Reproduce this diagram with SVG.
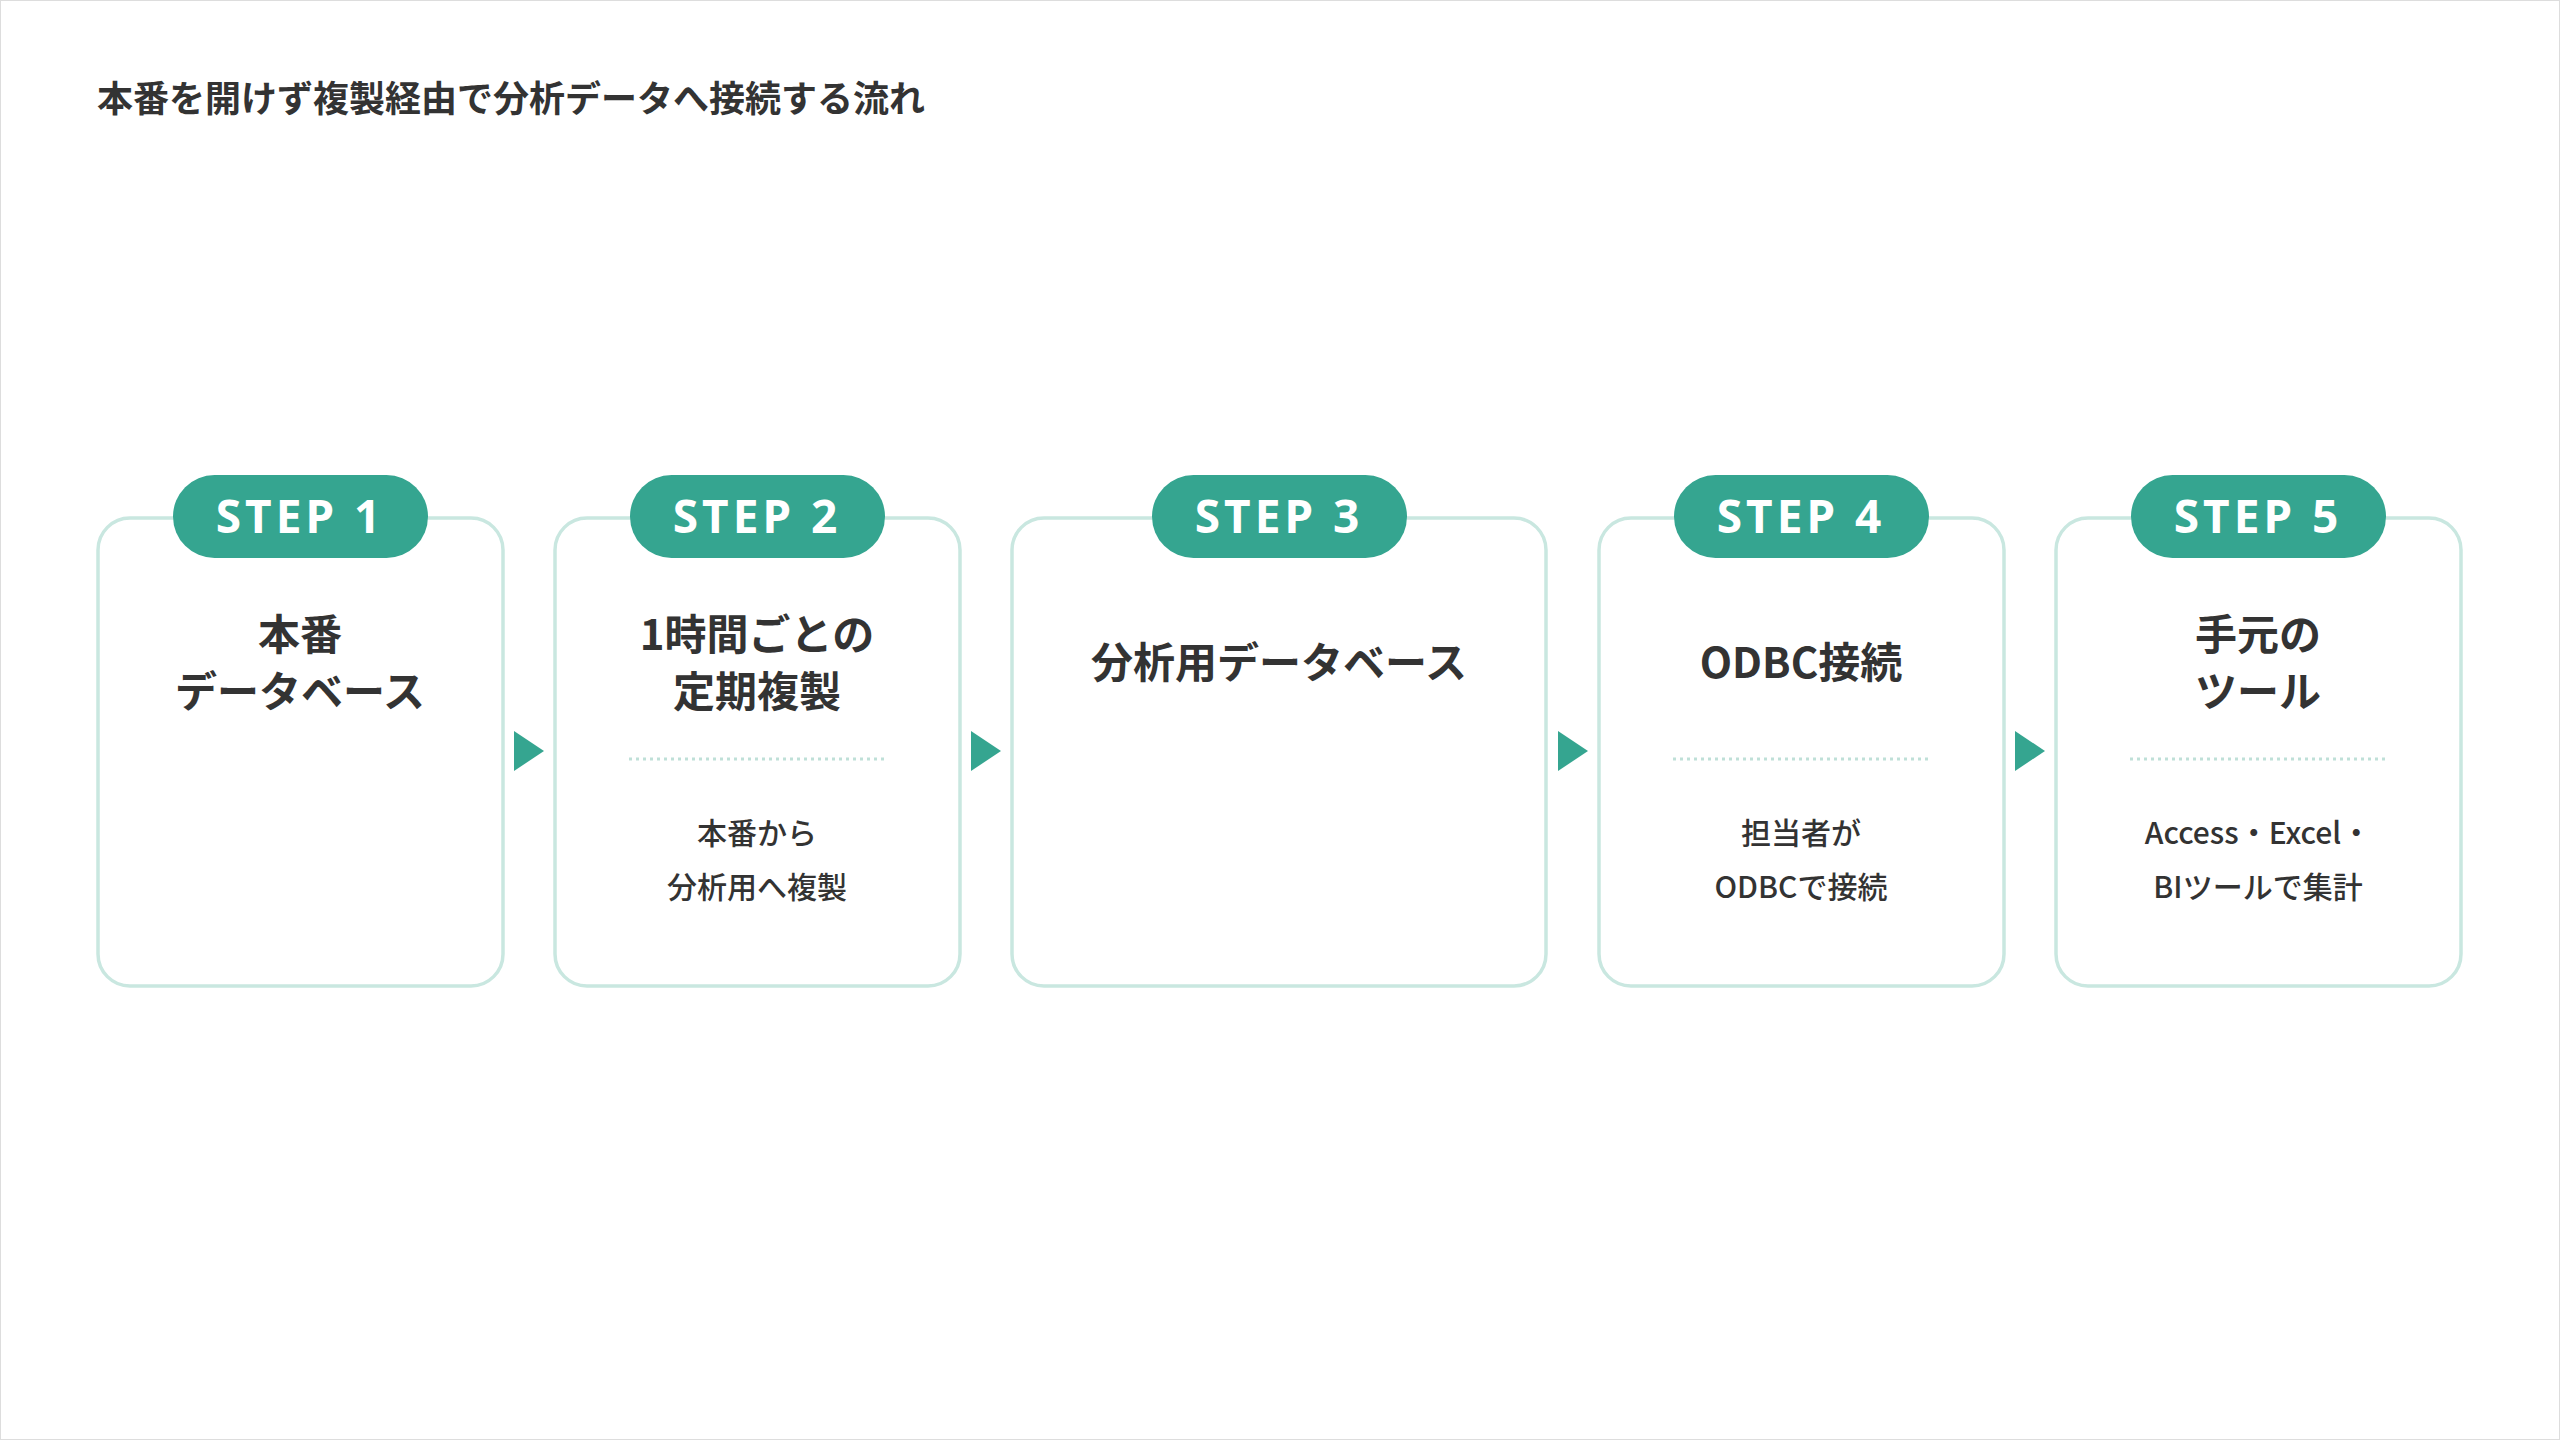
<svg xmlns="http://www.w3.org/2000/svg" width="2560" height="1440" viewBox="0 0 2560 1440">
<style>
text{font-family:"Noto Sans CJK JP","Noto Sans",sans-serif;fill:#333;}
.box{fill:#fff;stroke:#c9e7e0;stroke-width:3.5;}
.pill{fill:#35a590;}
.pt{fill:#fff;font-size:46px;font-weight:700;letter-spacing:4px;text-anchor:middle;font-family:"Noto Sans","Noto Sans CJK JP",sans-serif;}
.tt{font-size:42px;font-weight:700;text-anchor:middle;}
.st{font-size:30px;font-weight:500;text-anchor:middle;}
.dot{stroke:#bfe0d8;stroke-width:3;stroke-dasharray:3 4;}
.arr{fill:#35a590;}
</style>
<rect x="0.5" y="0.5" width="2559" height="1439" fill="#fff" stroke="#ddd"/>
<text x="97" y="112" font-size="36" font-weight="700">本番を開けず複製経由で分析データへ接続する流れ</text>
<g id="connectors">
<polygon class="arr" points="514,731 544,751 514,771"/>
<polygon class="arr" points="971,731 1001,751 971,771"/>
<polygon class="arr" points="1558,731 1588,751 1558,771"/>
<polygon class="arr" points="2015,731 2045,751 2015,771"/>
</g>
<g id="step1">
<rect class="box" x="98" y="518" width="405" height="468" rx="32"/>
<rect class="pill" x="173" y="475" width="255" height="83" rx="41.5"/>
<text class="pt" x="300" y="533">STEP 1</text>
<text class="tt" x="300" y="650">本番</text>
<text class="tt" x="300" y="707">データベース</text>
</g>
<g id="step2">
<rect class="box" x="555" y="518" width="405" height="468" rx="32"/>
<rect class="pill" x="630" y="475" width="255" height="83" rx="41.5"/>
<text class="pt" x="757" y="533">STEP 2</text>
<text class="tt" x="757" y="650">1時間ごとの</text>
<text class="tt" x="757" y="707">定期複製</text>
<line class="dot" x1="629" y1="759" x2="887" y2="759"/>
<text class="st" x="757" y="844">本番から</text>
<text class="st" x="757" y="898">分析用へ複製</text>
</g>
<g id="step3">
<rect class="box" x="1012" y="518" width="534" height="468" rx="32"/>
<rect class="pill" x="1152" y="475" width="255" height="83" rx="41.5"/>
<text class="pt" x="1279" y="533">STEP 3</text>
<text class="tt" x="1279" y="678">分析用データベース</text>
</g>
<g id="step4">
<rect class="box" x="1599" y="518" width="405" height="468" rx="32"/>
<rect class="pill" x="1674" y="475" width="255" height="83" rx="41.5"/>
<text class="pt" x="1801" y="533">STEP 4</text>
<text class="tt" x="1801" y="678">ODBC接続</text>
<line class="dot" x1="1673" y1="759" x2="1931" y2="759"/>
<text class="st" x="1801" y="844">担当者が</text>
<text class="st" x="1801" y="898">ODBCで接続</text>
</g>
<g id="step5">
<rect class="box" x="2056" y="518" width="405" height="468" rx="32"/>
<rect class="pill" x="2131" y="475" width="255" height="83" rx="41.5"/>
<text class="pt" x="2258" y="533">STEP 5</text>
<text class="tt" x="2258" y="650">手元の</text>
<text class="tt" x="2258" y="707">ツール</text>
<line class="dot" x1="2130" y1="759" x2="2388" y2="759"/>
<text class="st" x="2258" y="844">Access・Excel・</text>
<text class="st" x="2258" y="898">BIツールで集計</text>
</g>
</svg>
